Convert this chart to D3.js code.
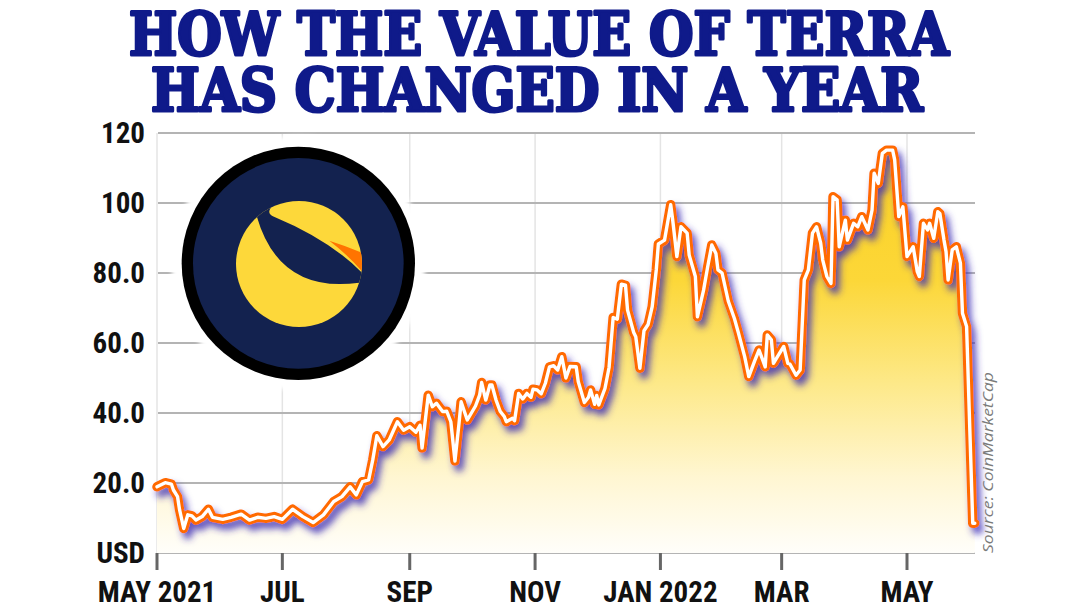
<!DOCTYPE html>
<html><head><meta charset="utf-8">
<script src="https://cdn.jsdelivr.net/npm/d3@7"></script>
<style>html,body{margin:0;padding:0;background:#fff;} svg{display:block;}</style>
</head><body>
<svg id="c" width="1080" height="608"></svg>
<script>
// ---------------- DATA ----------------
const titleLines = ["HOW THE VALUE OF TERRA", "HAS CHANGED IN A YEAR"];
const startDate = "2021-05-01";
const dayOffsets = [0,4,7,8,10,11,13,15,17,19,22,25,27,32,36,41,45,49,53,57,61,66,71,76,81,86,90,94,97,100,103,105,107,110,113,117,120,123,126,128,129,132,134,136,139,141,143,145,147,148,151,153,155,157,158,160,162,163,165,167,169,170,173,174,176,178,180,182,183,185,187,189,191,193,195,197,199,201,204,205,208,210,211,213,214,215,218,220,222,224,226,228,229,232,233,235,237,239,241,243,244,247,250,251,253,255,258,259,262,263,266,268,270,272,273,275,278,281,283,286,288,291,293,296,297,299,300,303,305,307,308,311,313,315,317,319,321,323,324,326,328,329,331,332,335,336,339,341,343,346,348,349,351,353,355,358,359,361,363,365,368,370,371,373,375,376,378,380,381,383,384,385,387,389,391,392,394,397,398];
const prices = [18.9,20.1,19.7,18,16.1,12.3,7.0,10.9,10.6,9.4,10.4,12.5,10.2,9.6,10.2,11.1,9.4,10.2,9.9,10.4,9.6,12.5,10.4,8.7,10.9,14.7,16.1,18.9,16.6,20.4,20.9,26.6,33.5,30.4,32.3,37.5,35.1,36.1,34.5,36.5,30,45.1,41.8,42.8,40.4,40.5,37.5,26.3,37.1,43.2,38,40,42,45.1,48.7,43.7,48,48,43.7,40.5,39,37.5,38.5,37.8,45.6,44,45.6,44.5,46.8,46.6,45.5,48.5,53.2,53.5,52.3,56.1,50,53.3,53.2,49,43,44.5,46.6,42.5,45,42.3,47,53,67.3,66.8,76.8,76.5,69.4,63,61.8,52.8,63.5,65.3,70.4,81,88.3,89.4,99.5,95,84.7,93.2,91.4,85.1,79,67.5,75.1,81.8,88,85.6,80.9,80,72,67,62.8,56.1,50.4,55.1,58,53.2,62.3,60.9,54.2,57.1,59,54.2,54,50.8,52.3,78,80.9,91.4,93.2,88.5,83.7,79,77,101.8,100.9,87.5,95.1,89.4,94.2,93.2,96.1,92.3,98,108.5,105.6,114.2,115.1,115.1,112.3,96.1,98.9,84.7,87.5,80.4,79,94.2,92.3,94.2,89.9,97.5,97,89.4,86.1,78,86.6,87.5,82.8,68.5,64.7,8.5,8.5];
const yTicks = [0, 20, 40, 60, 80, 100, 120];
const yTickLabels = ["USD", "20.0", "40.0", "60.0", "80.0", "100", "120"];
const xTickDates = ["2021-05-01","2021-07-01","2021-09-01","2021-11-01","2022-01-01","2022-03-01","2022-05-01"];
const xTickLabels = ["MAY 2021", "JUL", "SEP", "NOV", "JAN 2022", "MAR", "MAY"];
const sourceText = "Source: CoinMarketCap";

// ---------------- CHART ----------------
const svg = d3.select("#c");
const parse = d3.utcParse("%Y-%m-%d");
const start = parse(startDate);
const data = dayOffsets.map((d, i) => ({date: d3.utcDay.offset(start, d), v: prices[i]}));

const x = d3.scaleUtc().domain([parse("2021-05-01"), parse("2022-05-01")]).range([157, 907]);
const y = d3.scaleLinear().domain([0, 120]).range([553, 133]);
const plotLeft = 158, plotRight = 975;

const defs = svg.append("defs");
const grad = defs.append("linearGradient").attr("id", "ag")
  .attr("gradientUnits", "userSpaceOnUse").attr("x1", 0).attr("x2", 0).attr("y1", y(120)).attr("y2", y(0));
[[0, "#fbd020"], [0.35, "#fcd738"], [0.6, "#fde98a"], [0.82, "#fff6d2"], [1, "#fffefa"]]
  .forEach(([o, c]) => grad.append("stop").attr("offset", o).attr("stop-color", c));

const sh = defs.append("filter").attr("id", "sh").attr("x", "-5%").attr("y", "-5%").attr("width", "115%").attr("height", "115%");
sh.append("feDropShadow").attr("dx", 4).attr("dy", 6).attr("stdDeviation", 3.5)
  .attr("flood-color", "#3a2cb5").attr("flood-opacity", 0.8);

const halo = defs.append("filter").attr("id", "halo");
halo.append("feGaussianBlur").attr("stdDeviation", 2);

// vertical light grid
svg.append("g").selectAll("line").data(xTickDates).join("line")
  .attr("x1", d => x(parse(d))).attr("x2", d => x(parse(d)))
  .attr("y1", y(120)).attr("y2", y(0))
  .attr("stroke", "#e4e4e4").attr("stroke-width", 1.5);

// horizontal grid
svg.append("g").selectAll("line").data(yTicks).join("line")
  .attr("x1", plotLeft).attr("x2", plotRight)
  .attr("y1", d => y(d)).attr("y2", d => y(d))
  .attr("stroke", "#b4b4b4").attr("stroke-width", 2);

// tick marks
svg.append("g").selectAll("line").data(xTickDates).join("line")
  .attr("x1", d => x(parse(d))).attr("x2", d => x(parse(d)))
  .attr("y1", y(0)).attr("y2", y(0) + 17)
  .attr("stroke", "#666").attr("stroke-width", 3);

// area
const area = d3.area().x(d => x(d.date)).y0(y(0)).y1(d => y(d.v)).curve(d3.curveLinear);
svg.append("path").datum(data).attr("d", area).attr("fill", "url(#ag)");

// line
const line = d3.line().x(d => x(d.date)).y(d => y(d.v));
const lg = svg.append("g").attr("filter", "url(#sh)");
lg.append("path").datum(data).attr("d", line).attr("fill", "none")
  .attr("stroke", "#ff6a00").attr("stroke-width", 9.5).attr("stroke-linejoin", "round").attr("stroke-linecap", "round");
lg.append("path").datum(data).attr("d", line).attr("fill", "none")
  .attr("stroke", "#fff").attr("stroke-width", 3.4).attr("stroke-linejoin", "round").attr("stroke-linecap", "round");

// logo
svg.append("circle").attr("cx", 298.3).attr("cy", 263.3).attr("r", 127).attr("fill", "#fff").attr("filter", "url(#halo)");
const logo = svg.append("g").attr("transform", "translate(100,120) scale(0.33333)");
logo.append("circle").attr("cx", 595).attr("cy", 430).attr("r", 350).attr("fill", "#000");
logo.append("circle").attr("cx", 595).attr("cy", 430).attr("r", 316).attr("fill", "#13224f");
defs.append("clipPath").attr("id", "yc").append("circle").attr("cx", 597).attr("cy", 432).attr("r", 189);
logo.append("circle").attr("cx", 597).attr("cy", 432).attr("r", 189).attr("fill", "#fdd83a");
const lc = logo.append("g").attr("clip-path", "url(#yc)");
lc.append("path").attr("d", "M 688,362 Q 745,380 800,404 L 800,470 Q 745,405 688,362 Z").attr("fill", "#ff7400");
lc.append("path").attr("d", "M 470,288 Q 537,522 778,488 L 820,500 L 820,458 L 786,458 Q 690,360 522,290 Q 500,282 512,264 L 480,225 L 430,270 Z").attr("fill", "#13224f");

// y labels
svg.append("g").selectAll("text").data(yTicks).join("text")
  .attr("x", 145).attr("y", d => y(d)).attr("dy", "0.36em")
  .attr("text-anchor", "end")
  .style("font-family", "'Liberation Sans Narrow', 'Roboto Condensed', 'Roboto', sans-serif")
  .style("font-weight", "bold").style("font-size", "29px").attr("fill", "#111")
  .text((d, i) => yTickLabels[i]);

// x labels
svg.append("g").selectAll("text").data(xTickDates).join("text")
  .attr("x", d => x(parse(d))).attr("y", 602)
  .attr("text-anchor", "middle")
  .style("font-family", "'Liberation Sans Narrow', 'Roboto Condensed', 'Roboto', sans-serif")
  .style("font-weight", "bold").style("font-size", "29px").attr("fill", "#111")
  .text((d, i) => xTickLabels[i]);

// source
svg.append("text").attr("transform", "translate(993,553) rotate(-90)")
  .attr("textLength", 181).attr("lengthAdjust", "spacingAndGlyphs")
  .style("font-family", "'Open Sans', 'Noto Sans', sans-serif").style("font-style", "italic")
  .style("font-size", "15px").attr("fill", "#7a7a7a").text(sourceText);

// title
const tw = [[539, 55, 820], [537, 111, 772]];
svg.append("g").selectAll("text").data(titleLines).join("text")
  .attr("x", (d, i) => tw[i][0]).attr("y", (d, i) => tw[i][1])
  .attr("text-anchor", "middle")
  .attr("textLength", (d, i) => tw[i][2]).attr("lengthAdjust", "spacingAndGlyphs")
  .style("font-family", "'DejaVu Serif Condensed', 'DejaVu Serif', serif")
  .style("font-weight", "900").style("font-stretch", "condensed")
  .style("font-size", "60px").attr("fill", "#0f1a8a")
  .attr("stroke", "#0f1a8a").attr("stroke-width", 3).attr("stroke-linejoin", "round")
  .text(d => d);
</script>
</body></html>
